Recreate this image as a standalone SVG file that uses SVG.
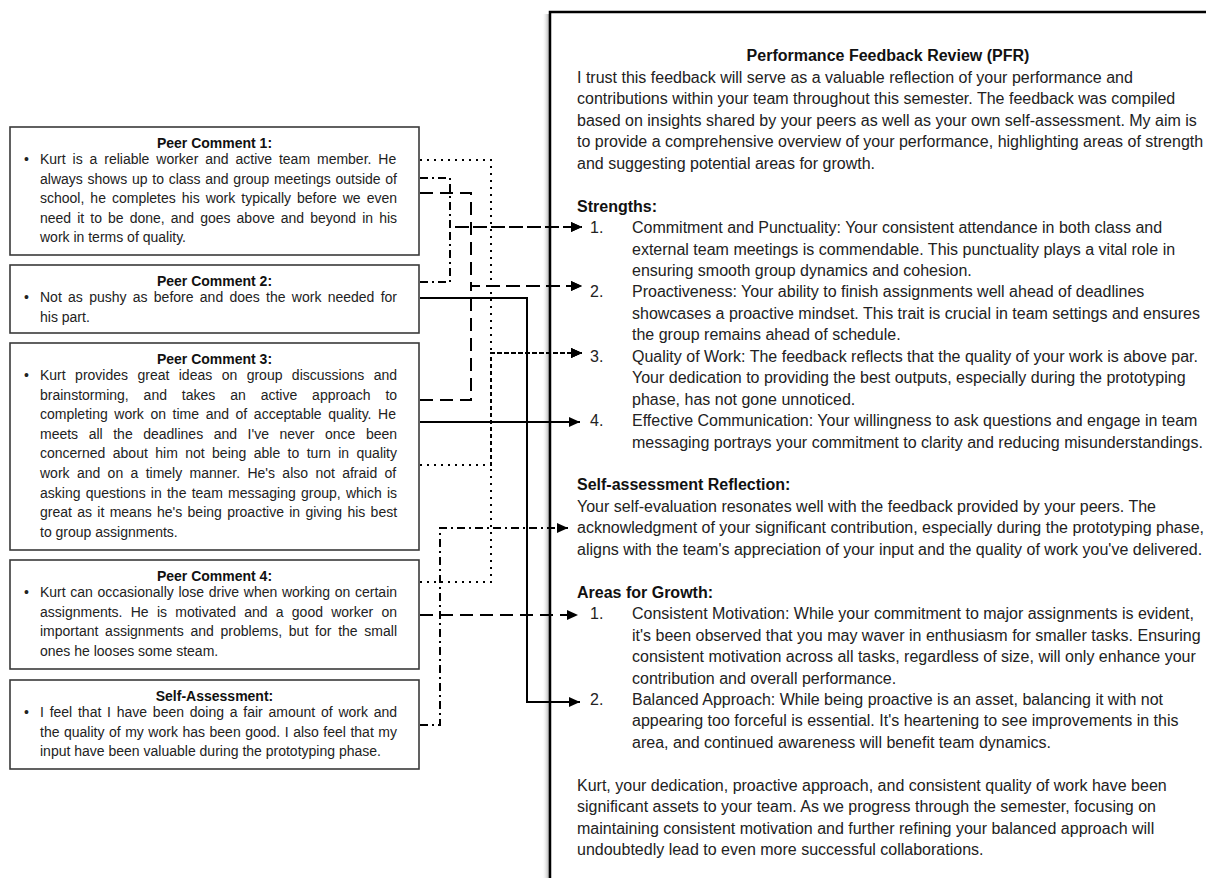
<svg xmlns="http://www.w3.org/2000/svg" width="1206" height="878" viewBox="0 0 1206 878">
<defs>
<linearGradient id="shade" x1="0" y1="0" x2="1" y2="0">
<stop offset="0" stop-color="#ffffff" stop-opacity="0"/>
<stop offset="1" stop-color="#8a8a8a" stop-opacity="0.9"/>
</linearGradient>
<marker id="ah" markerUnits="userSpaceOnUse" markerWidth="11" markerHeight="10" refX="11" refY="5" orient="auto">
<path d="M0,0 L11,5 L0,10 z" fill="#000"/>
</marker>
</defs>
<style>
.box{fill:#fff;stroke:#3a3a3a;stroke-width:1.6}
.ttl{font-family:"Liberation Sans",Arial,sans-serif;font-size:14px;font-weight:bold;fill:#111;text-anchor:middle}
.txt{font-family:"Liberation Sans",Arial,sans-serif;font-size:14px;fill:#222}
.r{font-family:"Liberation Sans",Arial,sans-serif;font-size:16px;fill:#222}
.rb{font-family:"Liberation Sans",Arial,sans-serif;font-size:16px;font-weight:bold;fill:#111}
.c{fill:none;stroke:#000;stroke-width:2;marker-end:url(#ah)}
.dot{stroke-dasharray:2 5}
.dd{stroke-dasharray:8 4 2 4}
.dash{stroke-dasharray:13 7}
</style>
<rect x="0" y="0" width="1206" height="878" fill="#fff"/>

<g id="pfr">
<rect x="542" y="14" width="8" height="870" fill="url(#shade)"/>
<rect x="550" y="12" width="700" height="900" fill="#fff" stroke="#000" stroke-width="2.5"/>
<text class="rb" x="888" y="61.4" text-anchor="middle">Performance Feedback Review (PFR)</text>
<text class="r" x="577" y="82.9">I trust this feedback will serve as a valuable reflection of your performance and</text>
<text class="r" x="577" y="104.3">contributions within your team throughout this semester. The feedback was compiled</text>
<text class="r" x="577" y="125.8">based on insights shared by your peers as well as your own self-assessment. My aim is</text>
<text class="r" x="577" y="147.2">to provide a comprehensive overview of your performance, highlighting areas of strength</text>
<text class="r" x="577" y="168.7">and suggesting potential areas for growth.</text>
<text class="rb" x="577" y="211.6">Strengths:</text>
<text class="r" x="590" y="233">1.</text>
<text class="r" x="632" y="233">Commitment and Punctuality: Your consistent attendance in both class and</text>
<text class="r" x="632" y="254.5">external team meetings is commendable. This punctuality plays a vital role in</text>
<text class="r" x="632" y="275.9">ensuring smooth group dynamics and cohesion.</text>
<text class="r" x="590" y="297.4">2.</text>
<text class="r" x="632" y="297.4">Proactiveness: Your ability to finish assignments well ahead of deadlines</text>
<text class="r" x="632" y="318.8">showcases a proactive mindset. This trait is crucial in team settings and ensures</text>
<text class="r" x="632" y="340.3">the group remains ahead of schedule.</text>
<text class="r" x="590" y="361.7">3.</text>
<text class="r" x="632" y="361.7">Quality of Work: The feedback reflects that the quality of your work is above par.</text>
<text class="r" x="632" y="383.2">Your dedication to providing the best outputs, especially during the prototyping</text>
<text class="r" x="632" y="404.6">phase, has not gone unnoticed.</text>
<text class="r" x="590" y="426.1">4.</text>
<text class="r" x="632" y="426.1">Effective Communication: Your willingness to ask questions and engage in team</text>
<text class="r" x="632" y="447.5">messaging portrays your commitment to clarity and reducing misunderstandings.</text>
<text class="rb" x="577" y="490.4">Self-assessment Reflection:</text>
<text class="r" x="577" y="511.9">Your self-evaluation resonates well with the feedback provided by your peers. The</text>
<text class="r" x="577" y="533.3">acknowledgment of your significant contribution, especially during the prototyping phase,</text>
<text class="r" x="577" y="554.8">aligns with the team's appreciation of your input and the quality of work you've delivered.</text>
<text class="rb" x="577" y="597.7">Areas for Growth:</text>
<text class="r" x="590" y="619.1">1.</text>
<text class="r" x="632" y="619.1">Consistent Motivation: While your commitment to major assignments is evident,</text>
<text class="r" x="632" y="640.6">it's been observed that you may waver in enthusiasm for smaller tasks. Ensuring</text>
<text class="r" x="632" y="662">consistent motivation across all tasks, regardless of size, will only enhance your</text>
<text class="r" x="632" y="683.5">contribution and overall performance.</text>
<text class="r" x="590" y="704.9">2.</text>
<text class="r" x="632" y="704.9">Balanced Approach: While being proactive is an asset, balancing it with not</text>
<text class="r" x="632" y="726.4">appearing too forceful is essential. It's heartening to see improvements in this</text>
<text class="r" x="632" y="747.8">area, and continued awareness will benefit team dynamics.</text>
<text class="r" x="577" y="790.7">Kurt, your dedication, proactive approach, and consistent quality of work have been</text>
<text class="r" x="577" y="812.2">significant assets to your team. As we progress through the semester, focusing on</text>
<text class="r" x="577" y="833.6">maintaining consistent motivation and further refining your balanced approach will</text>
<text class="r" x="577" y="855">undoubtedly lead to even more successful collaborations.</text>
</g>

<g id="connectors">
<path class="c dot" d="M420,160 H491 V353 H582"/>
<path class="c dot" d="M420,465 H491 V353 H582"/>
<path class="c dot" d="M420,582 H491 V353 H582"/>
<path class="c dd" d="M420,178 H450 V227 H582"/>
<path class="c dd" d="M420,282 H450 V227 H582"/>
<path class="c dd" d="M420,725 H440 V528 H568"/>
<path class="c dash" d="M420,193 H471 V286 H582"/>
<path class="c dash" d="M420,400 H471 V286 H582"/>
<path class="c dash" d="M420,615 H578"/>
<path class="c" d="M420,298 H527 V702 H580"/>
<path class="c" d="M420,422 H580"/>
</g>

<g id="peer1">
<rect class="box" x="10" y="127" width="409" height="128"/>
<text class="ttl" x="214.5" y="148">Peer Comment 1:</text>
<text class="txt" x="24" y="164">•</text>
<text class="txt" x="40" y="164" word-spacing="3.01">Kurt is a reliable worker and active team member. He</text>
<text class="txt" x="40" y="183.6" word-spacing="0.84">always shows up to class and group meetings outside of</text>
<text class="txt" x="40" y="203.2" word-spacing="2.12">school, he completes his work typically before we even</text>
<text class="txt" x="40" y="222.8" word-spacing="2.17">need it to be done, and goes above and beyond in his</text>
<text class="txt" x="40" y="242.4">work in terms of quality.</text>
</g>

<g id="peer2">
<rect class="box" x="10" y="265" width="409" height="68"/>
<text class="ttl" x="214.5" y="286">Peer Comment 2:</text>
<text class="txt" x="24" y="302">•</text>
<text class="txt" x="40" y="302" word-spacing="2.39">Not as pushy as before and does the work needed for</text>
<text class="txt" x="40" y="321.6">his part.</text>
</g>

<g id="peer3">
<rect class="box" x="10" y="343" width="409" height="207"/>
<text class="ttl" x="214.5" y="364">Peer Comment 3:</text>
<text class="txt" x="24" y="380">•</text>
<text class="txt" x="40" y="380" word-spacing="5.53">Kurt provides great ideas on group discussions and</text>
<text class="txt" x="40" y="399.6" word-spacing="11">brainstorming, and takes an active approach to</text>
<text class="txt" x="40" y="419.2" word-spacing="2.7">completing work on time and of acceptable quality. He</text>
<text class="txt" x="40" y="438.8" word-spacing="6.65">meets all the deadlines and I've never once been</text>
<text class="txt" x="40" y="458.4" word-spacing="3.52">concerned about him not being able to turn in quality</text>
<text class="txt" x="40" y="478" word-spacing="3.45">work and on a timely manner. He's also not afraid of</text>
<text class="txt" x="40" y="497.6" word-spacing="1.34">asking questions in the team messaging group, which is</text>
<text class="txt" x="40" y="517.2" word-spacing="1.43">great as it means he's being proactive in giving his best</text>
<text class="txt" x="40" y="536.8">to group assignments.</text>
</g>

<g id="peer4">
<rect class="box" x="10" y="560" width="409" height="109"/>
<text class="ttl" x="214.5" y="581">Peer Comment 4:</text>
<text class="txt" x="24" y="597">•</text>
<text class="txt" x="40" y="597" word-spacing="0.76">Kurt can occasionally lose drive when working on certain</text>
<text class="txt" x="40" y="616.6" word-spacing="4.36">assignments. He is motivated and a good worker on</text>
<text class="txt" x="40" y="636.2" word-spacing="2.87">important assignments and problems, but for the small</text>
<text class="txt" x="40" y="655.8">ones he looses some steam.</text>
</g>

<g id="self">
<rect class="box" x="10" y="680" width="409" height="89"/>
<text class="ttl" x="214.5" y="701">Self-Assessment:</text>
<text class="txt" x="24" y="717">•</text>
<text class="txt" x="40" y="717" word-spacing="1.87">I feel that I have been doing a fair amount of work and</text>
<text class="txt" x="40" y="736.6" word-spacing="0.63">the quality of my work has been good. I also feel that my</text>
<text class="txt" x="40" y="756.2">input have been valuable during the prototyping phase.</text>
</g>
</svg>
